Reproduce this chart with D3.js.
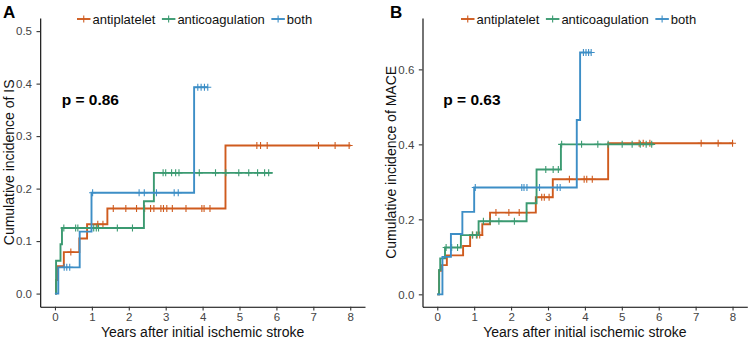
<!DOCTYPE html>
<html>
<head>
<meta charset="utf-8">
<script src="https://cdn.jsdelivr.net/npm/d3@7"></script>
<style>
  body { margin: 0; background: #fff; }
  svg { display: block; font-family: "Liberation Sans", Arial, sans-serif; }
</style>
</head>
<body>
<script>
// groups and colours
var groups = ["antiplatelet", "anticoagulation", "both"];
var colors = ["#CF5B1E", "#3B9A71", "#3D8EC6"];

// panel A: cumulative incidence of IS (step times, values, end, censor times)
var aAntiT = [0, 0.03, 0.08, 0.24, 0.66, 0.87, 1.42, 4.62];
var aAntiV = [0, 0.026, 0.052, 0.079, 0.105, 0.132, 0.162, 0.282];
var aAntiEnd = 8.01;
var aAntiCens = [0.43, 1.16, 1.3, 1.58, 1.92, 2.21, 2.43, 2.59, 2.68, 2.87, 2.94, 3.03, 3.18, 3.55, 3.98, 4.04, 4.2, 5.47, 5.57, 5.75, 7.14, 7.59, 7.97];

var aCoagT = [0, 0.03, 0.15, 0.19, 2.41, 2.68];
var aCoagV = [0, 0.0625, 0.094, 0.125, 0.176, 0.23];
var aCoagEnd = 5.9;
var aCoagCens = [0.24, 0.56, 0.62, 1.05, 1.12, 1.18, 1.69, 2.1, 2.93, 3.0, 3.16, 3.27, 3.36, 3.91, 4.35, 4.63, 4.98, 5.25, 5.49, 5.68, 5.79];

var aBothT = [0, 0.09, 0.67, 0.99, 3.77];
var aBothV = [0, 0.05, 0.118, 0.192, 0.393];
var aBothEnd = 4.14;
var aBothCens = [0.25, 0.32, 0.4, 1.02, 2.28, 2.42, 2.75, 3.23, 3.34, 3.87, 3.96, 4.05, 4.14];

// panel B: cumulative incidence of MACE
var bAntiT = [0, 0.05, 0.1, 0.26, 0.7, 0.89, 1.22, 1.43, 2.67, 3.13, 4.63];
var bAntiV = [0, 0.063, 0.078, 0.104, 0.129, 0.158, 0.187, 0.218, 0.259, 0.307, 0.403];
var bAntiEnd = 8.02;
var bAntiCens = [0.96, 1.08, 1.15, 1.59, 1.94, 2.22, 2.42, 2.83, 2.9, 3.03, 3.58, 3.98, 4.05, 4.2, 5.47, 5.58, 5.76, 7.15, 7.61, 8.0];

var bCoagT = [0, 0.05, 0.08, 0.21, 0.64, 1.12, 2.42, 2.69, 3.35];
var bCoagV = [0, 0.065, 0.096, 0.125, 0.158, 0.195, 0.243, 0.333, 0.4];
var bCoagEnd = 5.86;
var bCoagCens = [0.24, 0.39, 0.55, 0.95, 1.06, 1.25, 1.43, 1.67, 2.09, 2.94, 3.14, 3.28, 3.37, 3.91, 4.35, 4.63, 5.01, 5.28, 5.5, 5.66, 5.81];

var bBothT = [0, 0.14, 0.37, 0.68, 1.0, 3.78, 3.87];
var bBothV = [0, 0.1, 0.161, 0.22, 0.285, 0.465, 0.645];
var bBothEnd = 4.17;
var bBothCens = [1.03, 2.29, 2.35, 2.43, 2.77, 3.25, 3.33, 3.96, 4.03, 4.1, 4.17];

// tick labels
var xTicks = [0, 1, 2, 3, 4, 5, 6, 7, 8];
var aYTicks = [0, 0.1, 0.2, 0.3, 0.4, 0.5];
var bYTicks = [0, 0.2, 0.4, 0.6];

var svg = d3.select("body").append("svg")
  .attr("width", 749)
  .attr("height", 339);

var panels = [
  { tag: "A", ylab: "Cumulative incidence of IS", p: "p = 0.86",
    x0: 40.2, x1: 365, ydom: [-0.025, 0.525], yTicks: aYTicks,
    curves: [[aAntiT, aAntiV, aAntiEnd, aAntiCens], [aCoagT, aCoagV, aCoagEnd, aCoagCens], [aBothT, aBothV, aBothEnd, aBothCens]],
    tagX: 3, ylabX: 13.5, legX: 77, pX: 61.7 },
  { tag: "B", ylab: "Cumulative incidence of MACE", p: "p = 0.63",
    x0: 422.5, x1: 747.3, ydom: [-0.033, 0.737], yTicks: bYTicks,
    curves: [[bAntiT, bAntiV, bAntiEnd, bAntiCens], [bCoagT, bCoagV, bCoagEnd, bCoagCens], [bBothT, bBothV, bBothEnd, bBothCens]],
    tagX: 390, ylabX: 395.7, legX: 461, pX: 443.3 }
];

var plotTop = 18, plotBottom = 306.7;

panels.forEach(function(P) {
  var x = d3.scaleLinear().domain([-0.4, 8.4]).range([P.x0, P.x1]);
  var y = d3.scaleLinear().domain(P.ydom).range([plotBottom, plotTop]);
  var g = svg.append("g");

  // curves
  P.curves.forEach(function(c, i) {
    var pts = [];
    c[0].forEach(function(t, j) { pts.push([t, c[1][j]]); });
    pts.push([c[2], c[1][c[1].length - 1]]);
    var line = d3.line()
      .x(function(d) { return x(d[0]); })
      .y(function(d) { return y(d[1]); })
      .curve(d3.curveStepAfter);
    g.append("path")
      .datum(pts)
      .attr("d", line)
      .attr("fill", "none")
      .attr("stroke", colors[i])
      .attr("stroke-width", 1.9);

    // censor marks
    var stepAt = function(t) {
      var v = 0;
      c[0].forEach(function(tt, j) { if (tt <= t) v = c[1][j]; });
      return v;
    };
    g.selectAll(null)
      .data(c[3])
      .enter().append("path")
        .attr("d", function(t) {
          var px = x(t), py = y(stepAt(t));
          return "M" + px + "," + (py - 3.5) + "V" + (py + 3.5) + "M" + (px - 3.5) + "," + py + "H" + (px + 3.5);
        })
        .attr("stroke", colors[i])
        .attr("stroke-width", 1.1)
        .attr("fill", "none");
  });

  // axes
  var ax = g.append("g")
    .attr("transform", "translate(0," + plotBottom + ")")
    .call(d3.axisBottom(x).tickValues(xTicks).tickSize(3.7).tickSizeOuter(0).tickPadding(2.3).tickFormat(d3.format("d")));
  var ay = g.append("g")
    .attr("transform", "translate(" + P.x0 + ",0)")
    .call(d3.axisLeft(y).tickValues(P.yTicks).tickSize(3.7).tickSizeOuter(0).tickPadding(4.5).tickFormat(d3.format(".1f")));
  [ax, ay].forEach(function(a) {
    a.select(".domain").attr("stroke", "#000").attr("stroke-width", 1.1);
    a.selectAll(".tick line").attr("stroke", "#333").attr("stroke-width", 1.1);
    a.selectAll(".tick text")
      .attr("fill", "#444")
      .style("font-size", "11.5px")
      .style("font-family", "\"Liberation Sans\", Arial, sans-serif");
  });

  // axis titles
  g.append("text")
    .attr("x", (P.x0 + P.x1) / 2)
    .attr("y", 337)
    .attr("text-anchor", "middle")
    .style("font-size", "14px")
    .attr("fill", "#111")
    .text("Years after initial ischemic stroke");
  g.append("text")
    .attr("transform", "translate(" + P.ylabX + "," + ((plotTop + plotBottom) / 2) + ") rotate(-90)")
    .attr("text-anchor", "middle")
    .style("font-size", "14px")
    .attr("fill", "#111")
    .text(P.ylab);

  // panel tag
  g.append("text")
    .attr("x", P.tagX)
    .attr("y", 17.5)
    .style("font-size", "17px")
    .style("font-weight", "bold")
    .text(P.tag);

  // p value
  g.append("text")
    .attr("x", P.pX)
    .attr("y", 104.5)
    .style("font-size", "15.5px")
    .style("font-weight", "bold")
    .text(P.p);

  // legend
  var lx = P.legX, ly = 19;
  groups.forEach(function(name, i) {
    g.append("line")
      .attr("x1", lx).attr("x2", lx + 13.5)
      .attr("y1", ly).attr("y2", ly)
      .attr("stroke", colors[i]).attr("stroke-width", 1.9);
    g.append("path")
      .attr("d", "M" + (lx + 6.75) + "," + (ly - 3.5) + "V" + (ly + 3.5))
      .attr("stroke", colors[i]).attr("stroke-width", 1.1);
    var t = g.append("text")
      .attr("x", lx + 15.5)
      .attr("y", ly + 4.5)
      .style("font-size", "13px")
      .attr("fill", "#111")
      .text(name);
    lx = lx + 15.5 + t.node().getComputedTextLength() + 6.5;
  });
});
</script>
</body>
</html>
